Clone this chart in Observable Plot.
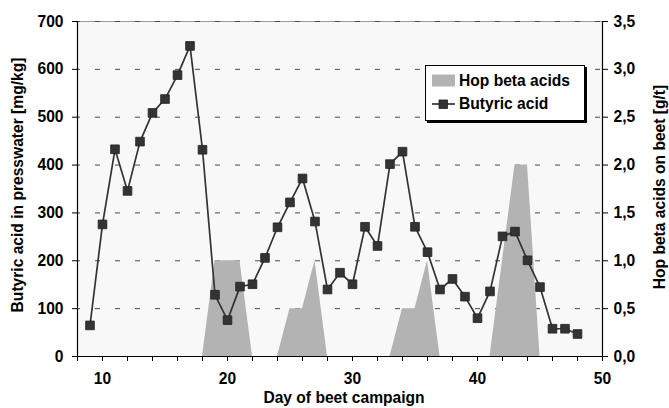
<!DOCTYPE html>
<html><head><meta charset="utf-8">
<script src="https://cdn.jsdelivr.net/npm/d3@7"></script>
<script src="https://cdn.jsdelivr.net/npm/@observablehq/plot@0.6"></script>
<style>
body{margin:0;background:#fff;}
#wrap{position:relative;width:669px;height:408px;font-family:"Liberation Sans",Arial,sans-serif;}
#legend{position:absolute;left:425px;top:65px;width:158px;height:54px;background:#fff;border:1px solid #000;box-shadow:2px 2px 0 #000;font-weight:bold;font-size:15.6px;color:#000;}
#legend .item{position:absolute;left:0;height:20px;line-height:20px;white-space:nowrap;}
#legend .lab{position:absolute;left:33px;top:0;}
#legend svg{position:absolute;left:6px;top:0;}
</style></head><body><div id="wrap"><div id="legend"></div></div>
<script>
// ---- data ----
const days     = [9,10,11,12,13,14,15,16,17,18,19,20,21,22,23,24,25,26,27,28,29,30,31,32,33,34,35,36,37,38,39,40,41,42,43,44,45,46,47,48];
const butyric  = [65,276,433,346,449,509,538,588,649,432,129,76,146,151,206,270,322,372,282,140,175,151,271,231,402,428,271,218,140,162,125,80,136,251,261,201,145,58,58,47];
const hopBeta  = [0,0,0,0,0,0,0,0,0,0,1.0,1.0,1.0,0,0,0,0.5,0.5,1.0,0,0,0,0,0,0,0.5,0.5,1.0,0,0,0,0,0,1.0,2.0,2.0,0,0,0,0];
const seriesNames = ["Hop beta acids", "Butyric acid"];
const leftTicks  = [0,100,200,300,400,500,600,700];
const rightTicks = [0,0.5,1.0,1.5,2.0,2.5,3.0,3.5];
const xLabelTicks = [10,20,30,40,50];
const xTickMarks  = [8,10,12,14,16,18,20,22,24,26,28,30,32,34,36,38,40,42,44,46,48,50];
const axisTitles = {x:"Day of beet campaign", yLeft:"Butyric acid in presswater [mg/kg]", yRight:"Hop beta acids on beet [g/t]"};

const ratio = 700 / 3.5;
const data = days.map((d, i) => ({day: d, butyric: butyric[i], hop: hopBeta[i] * ratio}));
const fmtRight = v => (v / ratio).toFixed(1).replace(".", ",");

const FONT = '"Liberation Sans", Arial, sans-serif';
const FS = 15.6;
const chart = Plot.plot({
  width: 669, height: 408,
  marginLeft: 77, marginRight: 67, marginTop: 21, marginBottom: 52,
  style: {fontFamily: FONT, fontSize: FS + "px", fontWeight: "bold", background: "transparent", overflow: "visible", color: "#000"},
  x: {domain: [8, 50]},
  y: {domain: [0, 700]},
  marks: [
    Plot.frame({fill: "#f8f8f8", stroke: null}),
    Plot.ruleY([700], {stroke: "#9a9a9a"}),
    Plot.ruleY(leftTicks.filter(v => v > 0), {stroke: "#4a4a4a", strokeDasharray: "5,15", strokeDashoffset: 2}),
    Plot.areaY(data, {x: "day", y: "hop", fill: "#b3b3b3", curve: "linear"}),
    Plot.line(data, {x: "day", y: "butyric", stroke: "#333", strokeWidth: 1.7}),
    Plot.dot(data, {x: "day", y: "butyric", symbol: "square", r: 4.9, fill: "#333", stroke: "#222", strokeWidth: 0.8}),
    Plot.ruleX([8, 50], {stroke: "#000", strokeWidth: 1.2}),
    Plot.ruleY([0], {stroke: "#000", strokeWidth: 1.2}),
    Plot.axisY({anchor: "left", ticks: leftTicks, tickSize: 5, tickPadding: 9, label: null, fontWeight: "bold"}),
    Plot.axisY({anchor: "right", ticks: rightTicks.map(v => v * ratio), tickFormat: fmtRight, tickSize: 5, tickPadding: 6, label: null, fontWeight: "bold"}),
    Plot.axisX({ticks: xTickMarks, tickFormat: d => xLabelTicks.includes(d) ? String(d) : "", tickSize: 5, tickPadding: 11, label: null, fontWeight: "bold"}),
    Plot.text([axisTitles.yLeft], {frameAnchor: "left", text: d => d, rotate: -90, dx: -60, dy: -4, fontWeight: "bold", fontSize: FS, textAnchor: "middle"}),
    Plot.text([axisTitles.yRight], {frameAnchor: "right", text: d => d, rotate: -90, dx: 57, dy: -2, fontWeight: "bold", fontSize: FS, textAnchor: "middle"}),
    Plot.text([axisTitles.x], {frameAnchor: "bottom", text: d => d, dx: 4, dy: 46, fontWeight: "bold", fontSize: FS, textAnchor: "middle"})
  ]
});
document.getElementById("wrap").prepend(chart);

// legend
const legend = document.getElementById("legend");
seriesNames.forEach((name, i) => {
  const item = document.createElement("div");
  item.className = "item";
  item.style.top = (i === 0 ? 5 : 28) + "px";
  const swatch = i === 0
    ? '<svg width="24" height="20"><rect x="0" y="3.5" width="23" height="12" fill="#b3b3b3"/></svg>'
    : '<svg width="24" height="20"><line x1="0" x2="23" y1="10" y2="10" stroke="#333" stroke-width="1.7"/><rect x="7" y="6" width="8.5" height="8.5" fill="#333" stroke="#222" stroke-width="0.8"/></svg>';
  item.innerHTML = swatch + '<span class="lab">' + name + '</span>';
  legend.appendChild(item);
});
</script>
</body></html>
